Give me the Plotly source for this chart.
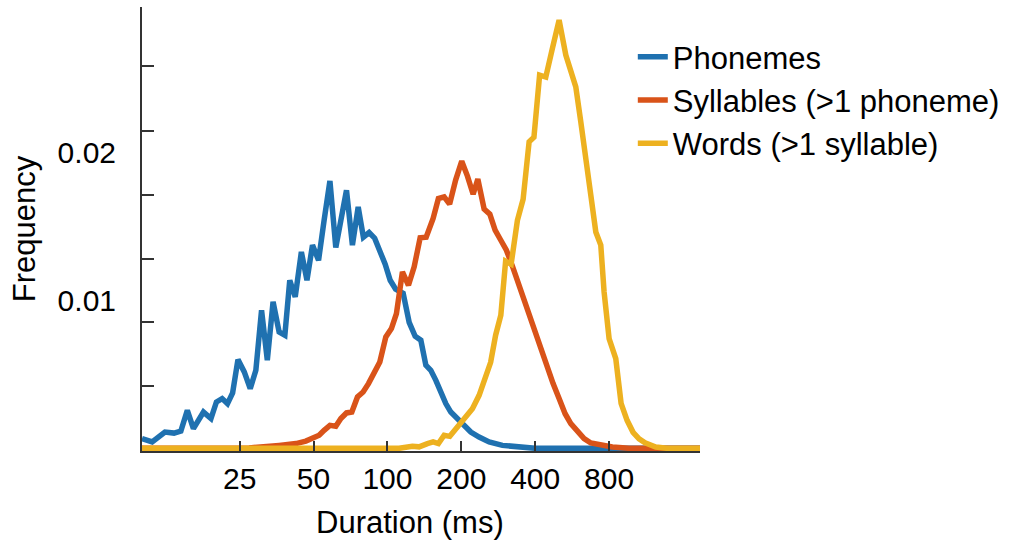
import math
import plotly.graph_objects as go

# ---- data ----
series_names = ["Phonemes", "Syllables (>1 phoneme)", "Words (>1 syllable)"]

phoneme_ms = [10.0, 11.0, 12.4, 13.5, 14.4, 15.3, 16.2, 17.8, 19.1, 20.1, 21.2, 22.3, 23.4, 24.6,
              26.1, 27.6, 29.1, 30.7, 32.4, 34.2, 36.2, 38.2, 40.0, 42.1, 44.6, 47.0, 49.5, 52.4,
              55.2, 58.3, 61.6, 64.8, 68.1, 72.0, 76.0, 79.8, 84.2, 88.7, 92.9, 97.9, 102.6, 108.0,
              115.9, 122.6, 129.7, 136.8, 143.4, 150.2, 157.5, 165.0, 172.9, 181.2, 192.8, 205.3,
              218.6, 236.3, 259.6, 294.1, 343.9, 400.0, 1877.0]
phoneme_freq = [0.00066, 0.00043, 0.00110, 0.00103, 0.00117, 0.00257, 0.00133, 0.00245, 0.00201,
                0.00313, 0.00336, 0.00302, 0.00374, 0.00599, 0.00516, 0.00403, 0.00527, 0.00932,
                0.00595, 0.00989, 0.00786, 0.00764, 0.01135, 0.01022, 0.01326, 0.01135, 0.01372,
                0.01270, 0.01540, 0.01806, 0.01356, 0.01540, 0.01743, 0.01372, 0.01630, 0.01426,
                0.01457, 0.01419, 0.01338, 0.01243, 0.01135, 0.01074, 0.01047, 0.00851, 0.00757,
                0.00730, 0.00561, 0.00527, 0.00459, 0.00380, 0.00302, 0.00245, 0.00201, 0.00151,
                0.00110, 0.00076, 0.00043, 0.00020, 0.00009, 0.0, 0.0]

syllable_ms = [10.0, 27.3, 36.2, 42.4, 46.5, 49.5, 52.7, 55.2, 58.3, 61.6, 64.6, 68.1, 71.6, 75.5,
               79.6, 83.7, 88.3, 93.1, 98.5, 103.8, 108.8, 115.1, 121.8, 128.5, 135.9, 143.8, 153.5,
               161.3, 170.2, 179.2, 189.6, 200.8, 211.8, 223.4, 233.5, 247.7, 261.3, 274.6, 289.7,
               305.3, 323.0, 341.7, 360.4, 380.2, 402.3, 424.0, 448.5, 473.1, 500.5, 529.5, 558.6,
               594.3, 632.8, 673.9, 740.0, 825.0, 965.0, 1877.0]
syllable_freq = [0.0, 0.00003, 0.00020, 0.00032, 0.00049, 0.00066, 0.00088, 0.00122, 0.00155,
                 0.00149, 0.00201, 0.00239, 0.00245, 0.00347, 0.00380, 0.00437, 0.00505, 0.00583,
                 0.00752, 0.00809, 0.00910, 0.01191, 0.01101, 0.01225, 0.01422, 0.01426, 0.01552,
                 0.01687, 0.01698, 0.01649, 0.01811, 0.01939, 0.01838, 0.01716, 0.01818, 0.01615,
                 0.01581, 0.01473, 0.01405, 0.01338, 0.01230, 0.01113, 0.01000, 0.00865, 0.00750,
                 0.00662, 0.00547, 0.00437, 0.00336, 0.00234, 0.00167, 0.00110, 0.00066, 0.00036,
                 0.00020, 0.00009, 0.0, 0.0]

word_ms = [10.0, 111.6, 126.4, 134.6, 145.5, 153.5, 161.3, 170.2, 179.5, 189.9, 199.1, 210.2, 221.9,
           236.3, 250.0, 263.3, 275.9, 289.7, 303.0, 319.1, 338.5, 357.1, 377.8, 395.3, 416.8, 441.8,
           470.0, 500.5, 533.0, 558.6, 585.4, 613.5, 643.0, 673.9, 706.2, 740.0, 763.4, 800.0, 851.8,
           895.3, 947.1, 1001.9, 1060.0, 1121.0, 1239.7, 1378.0, 1877.0]
word_freq = [0.0, 0.0, 0.00014, 0.00010, 0.00032, 0.00043, 0.00032, 0.00088, 0.00081, 0.00133,
             0.00176, 0.00216, 0.00268, 0.00358, 0.00486, 0.00581, 0.00764, 0.00899, 0.01264,
             0.01243, 0.01540, 0.01682, 0.02070, 0.02101, 0.02520, 0.02507, 0.02701, 0.02892,
             0.02655, 0.02532, 0.02441, 0.02205, 0.01980, 0.01710, 0.01461, 0.01372, 0.01056,
             0.00741, 0.00606, 0.00304, 0.00189, 0.00108, 0.00064, 0.00037, 0.00009, 0.0, 0.0]

x_tick_vals = [25, 50, 100, 200, 400, 800]
x_tick_text = ["25", "50", "100", "200", "400", "800"]
y_label_vals = [0.01, 0.02]
y_label_text = ["0.01", "0.02"]
y_tick_marks = [0.0042, 0.0085, 0.0128, 0.0171, 0.0214, 0.0258]
x_title = "Duration (ms)"
y_title = "Frequency"

colors = ["#1F71B0", "#D95319", "#EDB120"]
FONT = "Liberation Sans, Arial, Helvetica, sans-serif"
AXC = "#333333"

fig = go.Figure()
for name, xs, ys, c in zip(series_names,
                           [phoneme_ms, syllable_ms, word_ms],
                           [phoneme_freq, syllable_freq, word_freq],
                           colors):
    fig.add_trace(go.Scatter(x=xs, y=ys, mode="lines", name=name,
                             line=dict(color=c, width=5.5)))

fig.update_layout(
    width=1011, height=544,
    margin=dict(l=142, r=310, t=7, b=93),
    paper_bgcolor="white", plot_bgcolor="white",
    font=dict(family=FONT, size=30, color="black"),
    showlegend=True,
    legend=dict(x=0.878, y=0.948, xanchor="left", yanchor="top",
                bgcolor="rgba(0,0,0,0)", font=dict(size=31), tracegroupgap=0),
    annotations=[dict(text=x_title, xref="paper", yref="paper",
                      x=0.481, y=-0.162, xanchor="center", yanchor="middle",
                      showarrow=False, font=dict(size=31))],
)
fig.update_xaxes(
    type="log", range=[1, math.log10(1877)],
    tickmode="array", tickvals=x_tick_vals, ticktext=x_tick_text,
    ticks="inside", ticklen=10, tickwidth=2, tickcolor=AXC,
    showline=True, linecolor=AXC, linewidth=2,
    showgrid=False, zeroline=False, ticklabelstandoff=0,
    automargin=False,
)
fig.update_yaxes(
    range=[-0.00018, 0.0298],
    tickmode="array", tickvals=y_label_vals, ticktext=y_label_text,
    ticks="inside", ticklen=0, tickwidth=2, tickcolor=AXC,
    minor=dict(tickmode="array", tickvals=y_tick_marks, ticks="inside",
               ticklen=12, tickwidth=2, tickcolor=AXC, showgrid=False),
    showline=True, linecolor=AXC, linewidth=2,
    showgrid=False, zeroline=False, ticklabelstandoff=18,
    title=dict(text=y_title, standoff=13, font=dict(size=31)),
    automargin=False,
)

fig.write_html("out.html")
